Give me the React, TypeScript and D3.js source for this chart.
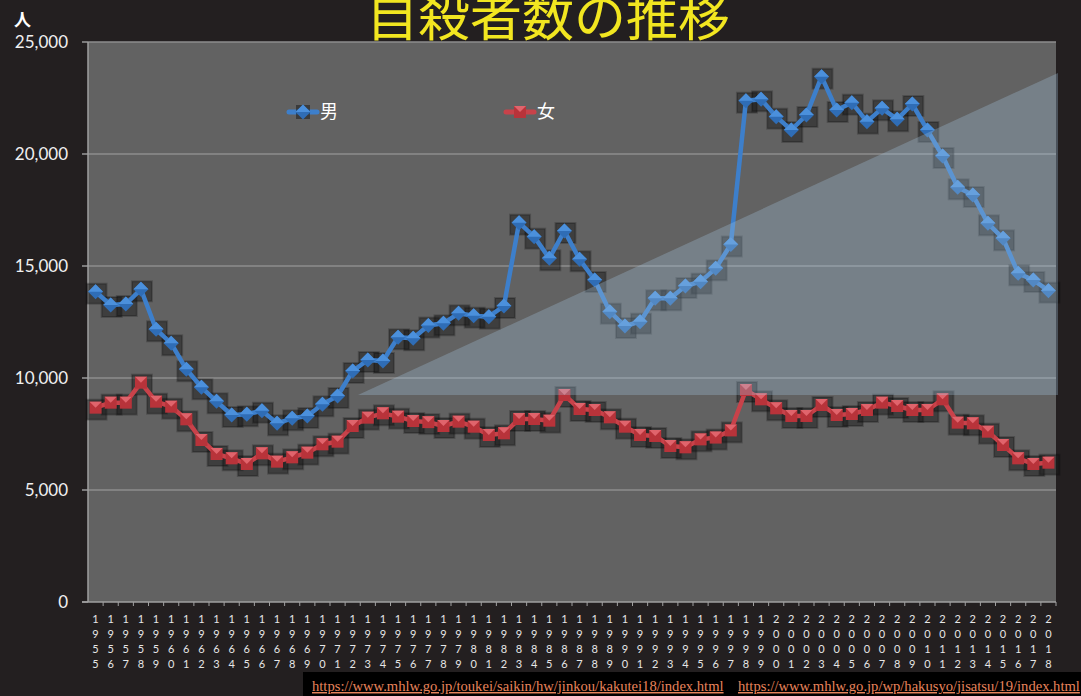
import React from 'react';
import * as d3 from 'd3';

// 自殺者数 (人口動態統計) 1955-2018
const years = d3.range(1955, 2019).map(String);

const male = [
  13853, 13259, 13304, 13960, 12174, 11549, 10388, 9585, 8960, 8348,
  8379, 8540, 7977, 8200, 8304, 8825, 9196, 10313, 10804, 10759,
  11817, 11772, 12340, 12440, 12887, 12783, 12738, 13214, 16935, 16310,
  15342, 16563, 15298, 14375, 12961, 12321, 12515, 13557, 13557, 14107,
  14300, 14895, 15960, 22379, 22440, 21667, 21071, 21741, 23452, 21964,
  22292, 21444, 22039, 21548, 22232, 21071, 19911, 18512, 18170, 16905,
  16235, 14673, 14375, 13899,
];

const female = [
  8676, 8899, 8899, 9792, 8942, 8720, 8155, 7232, 6607, 6414,
  6161, 6637, 6265, 6458, 6667, 7039, 7158, 7857, 8229, 8423,
  8274, 8080, 8030, 7857, 8051, 7827, 7455, 7530, 8170, 8170,
  8095, 9241, 8616, 8571, 8244, 7827, 7455, 7411, 6964, 6905,
  7260, 7340, 7660, 9464, 9048, 8646, 8304, 8304, 8795, 8348,
  8393, 8571, 8899, 8750, 8571, 8571, 9048, 8006, 7976, 7604,
  7009, 6414, 6161, 6220,
];

const yTicks = [0, 5000, 10000, 15000, 20000, 25000];
const sources = [
  'https://www.mhlw.go.jp/toukei/saikin/hw/jinkou/kakutei18/index.html',
  'https://www.mhlw.go.jp/wp/hakusyo/jisatsu/19/index.html',
];
// translucent wedge (in category index / value units)
const wedgeStart = 17.35;
const wedgeLow = 9240;
const wedgeHigh = 23620;

const W = 1081;
const H = 696;
const margin = { top: 42, right: 25, bottom: 94, left: 88 };

export default function App() {
  const x = d3.scaleBand<string>().domain(years).range([margin.left, W - margin.right]);
  const y = d3.scaleLinear().domain([0, 25000]).range([H - margin.bottom, margin.top]);
  const cx = (i: number) => (x(years[i]) as number) + x.bandwidth() / 2;
  const idx = d3.scaleLinear().domain([0, years.length - 1]).range([cx(0), cx(years.length - 1)]);

  const line = d3.line<number>().x((_, i) => cx(i)).y((d) => y(d));
  const fmt = d3.format(',');
  const x0 = margin.left;
  const x1 = W - margin.right;
  const yb = y(0);

  const wedge = [
    [idx(wedgeStart), y(wedgeLow)],
    [x1 + 2, y(wedgeHigh)],
    [x1 + 2, y(wedgeLow)],
  ];

  const blueColor = '#3d7fcb';
  const redColor = '#c8424a';

  const diamond = (px: number, py: number, key: string) => (
    <g key={key}>
      <polygon points={`${px},${py - 7.5} ${px + 7.5},${py} ${px},${py + 7.5} ${px - 7.5},${py}`} fill="#2f6db6" />
      <polygon points={`${px},${py - 7.5} ${px + 7.5},${py} ${px - 7.5},${py}`} fill="#4b90dc" />
    </g>
  );
  const square = (px: number, py: number, key: string) => (
    <g key={key}>
      <rect x={px - 6} y={py - 6} width={12} height={12} fill="#b8333a" />
      <polygon points={`${px - 6},${py - 6} ${px + 6},${py - 6} ${px},${py}`} fill="#e0646c" />
    </g>
  );
  const shadow = (px: number, py: number, key: string) => (
    <rect key={key} x={px - 9} y={py - 8} width={20} height={20}
      fill="rgba(20,20,20,0.45)" stroke="rgba(0,0,0,0.2)" strokeWidth={2} />
  );

  return (
    <svg width={W} height={H} style={{ position: 'absolute', left: 0, top: 0 }}
      fontFamily="Lato, 'Noto Sans', sans-serif">
      <rect width={W} height={H} fill="#231f20" />
      <rect x={x0} y={margin.top} width={x1 - x0} height={yb - margin.top} fill="#626262" />

      {/* title */}
      <text x={548} y={36} textAnchor="middle" fontSize={52} fill="#f2e620"
        fontFamily="'Noto Sans CJK JP', sans-serif">自殺者数の推移</text>
      <text x={14} y={26} fontSize={17} fontWeight="bold" fill="#fff"
        fontFamily="'Noto Sans CJK JP', sans-serif">人</text>

      {/* grid + y axis */}
      {yTicks.map((t) => (
        <g key={t}>
          {t > 0 && <line x1={x0} x2={x1} y1={y(t)} y2={y(t)} stroke="#8e8e8e" strokeWidth={1.5} />}
          <line x1={x0 - 6} x2={x0} y1={y(t)} y2={y(t)} stroke="#9a9a9a" strokeWidth={1.5} />
          <text x={68} y={y(t)} dy="0.35em" textAnchor="end" fontSize={17} fill="#f0f0f0">{fmt(t)}</text>
        </g>
      ))}
      <line x1={x0} x2={x0} y1={margin.top} y2={yb} stroke="#a0a0a0" strokeWidth={1.5} />
      <line x1={x0 - 6} x2={x1} y1={yb} y2={yb} stroke="#a0a0a0" strokeWidth={1.5} />
      {years.map((yr, i) => (
        <g key={yr}>
          <line x1={x(yr)! + x.bandwidth()} x2={x(yr)! + x.bandwidth()} y1={yb} y2={yb + 4} stroke="#a0a0a0" />
          {yr.split('').map((c, k) => (
            <text key={k} x={cx(i)} y={yb + 17 + k * 15} dy="0.35em" textAnchor="middle" fontSize={11} fill="#e6e6e6">{c}</text>
          ))}
        </g>
      ))}

      {/* series */}
      {male.map((v, i) => shadow(cx(i), y(v), 'ms' + i))}
      {female.map((v, i) => shadow(cx(i), y(v), 'fs' + i))}
      <path d={line(male) ?? ''} fill="none" stroke={blueColor} strokeWidth={4.5} strokeLinejoin="round" />
      <path d={line(female) ?? ''} fill="none" stroke={redColor} strokeWidth={4.5} strokeLinejoin="round" />
      {male.map((v, i) => diamond(cx(i), y(v), 'm' + i))}
      {female.map((v, i) => square(cx(i), y(v), 'f' + i))}

      {/* overlay wedge */}
      <polygon points={wedge.map((p) => p.join(',')).join(' ')} fill="rgba(165,200,225,0.3)" />

      {/* legend */}
      <g>
        <line x1={289} x2={317} y1={112} y2={112} stroke={blueColor} strokeWidth={5} strokeLinecap="round" />
        <rect x={296} y={105} width={14} height={14} fill="rgba(20,20,20,0.5)" />
        {diamond(303, 112, 'lm')}
        <text x={320} y={112} dy="0.35em" fontSize={18} fill="#fff" fontFamily="'Noto Sans CJK JP', sans-serif">男</text>
        <line x1={506} x2={534} y1={112} y2={112} stroke={redColor} strokeWidth={5} strokeLinecap="round" />
        {square(520, 112, 'lf')}
        <text x={537} y={112} dy="0.35em" fontSize={18} fill="#fff" fontFamily="'Noto Sans CJK JP', sans-serif">女</text>
      </g>

      {/* sources */}
      <rect x={303} y={672} width={W - 303} height={H - 672} fill="#000" />
      <text x={312} y={691} fontSize={14.6} fill="#e8845c" textDecoration="underline"
        fontFamily="'Liberation Serif', serif">{sources[0]}</text>
      <text x={738} y={691} fontSize={14.6} fill="#e8845c" textDecoration="underline"
        fontFamily="'Liberation Serif', serif">{sources[1]}</text>
    </svg>
  );
}
